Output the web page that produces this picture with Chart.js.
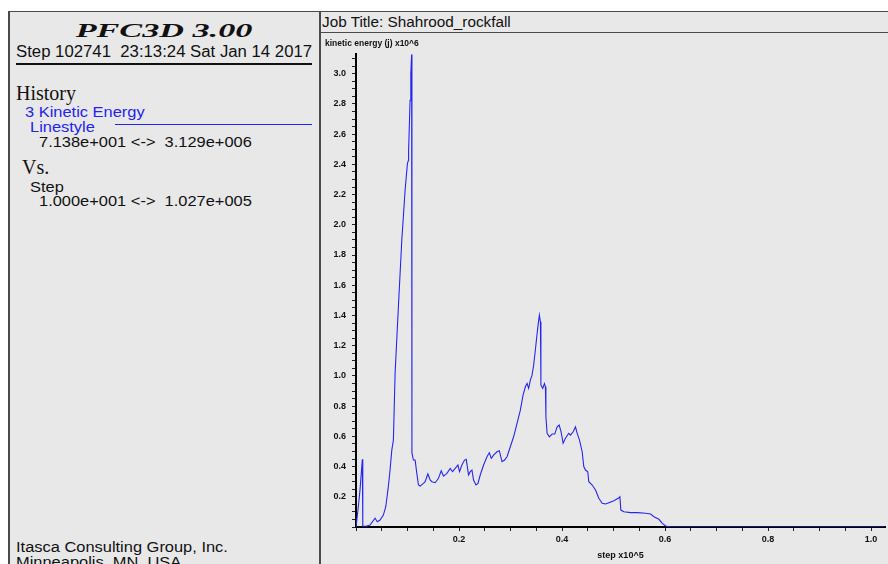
<!DOCTYPE html>
<html>
<head>
<meta charset="utf-8">
<script src="https://cdn.jsdelivr.net/npm/chart.js@4.4.0/dist/chart.umd.min.js"></script>
<style>
body { margin: 0; width: 888px; height: 564px; overflow: hidden; background: #fff; position: relative; font-family: "Liberation Sans", Arial, sans-serif; color: #111; }
.box { position: absolute; background: #e8e8e8; }
.txt { position: absolute; white-space: pre; line-height: 1; }
.wide { font-size: 15.5px; transform: scaleX(1.06); transform-origin: left center; }
.serif { font-family: "Liberation Serif", "Times New Roman", serif; }
.blue { color: #2424f0; }
</style>
</head>
<body>
<div class="box" style="left:8px; top:11px; width:311px; height:553px; border-left:2px solid #4a4a4a; border-top:1px solid #4a4a4a; box-sizing:border-box;"></div>
<div class="box" style="left:319px; top:11px; width:2px; height:553px; background:#4a4a4a;"></div>
<div class="box" style="left:321px; top:11px; width:567px; height:22px; border-top:1px solid #4a4a4a; border-bottom:1px solid #4a4a4a; box-sizing:border-box;"></div>
<div class="box" style="left:321px; top:33px; width:567px; height:531px;"></div>

<div class="txt serif" style="left:164px; top:22px; font-size:18px; font-weight:bold; font-style:italic; transform:translateX(-50%) scaleX(1.9); transform-origin:center;">PFC3D 3.00</div>
<div class="txt wide" style="left:16px; top:44px; font-size:15.8px;">Step 102741  23:13:24 Sat Jan 14 2017</div>
<div class="box" style="left:16px; top:63px; width:296px; height:2px; background:#111;"></div>
<div class="txt serif" style="left:16px; top:83px; font-size:20px;">History</div>
<div class="txt wide blue" style="left:25px; top:104px;">3 Kinetic Energy</div>
<div class="txt wide blue" style="left:30px; top:119px;">Linestyle</div>
<div class="box" style="left:115px; top:124px; width:197px; height:1px; background:#2424f0;"></div>
<div class="txt wide" style="left:39px; top:134px;">7.138e+001 &lt;-&gt;  3.129e+006</div>
<div class="txt serif" style="left:22px; top:157px; font-size:20px;">Vs.</div>
<div class="txt wide" style="left:30px; top:179px;">Step</div>
<div class="txt wide" style="left:39px; top:193px;">1.000e+001 &lt;-&gt;  1.027e+005</div>
<div class="txt wide" style="left:16px; top:539px;">Itasca Consulting Group, Inc.</div>
<div class="txt wide" style="left:16px; top:554px;">Minneapolis, MN  USA</div>

<div class="txt" style="left:322px; top:14px; font-size:15.3px;">Job Title: Shahrood_rockfall</div>

<div style="position:absolute; left:322px; top:34px; width:566px; height:530px;">
    <canvas id="history"></canvas>
</div>

<script>
// step (x10^5) and kinetic energy (j x10^6)
const steps = [
    0.0001, 0.0045, 0.0078, 0.0123, 0.0132, 0.0208, 0.0272, 0.037, 0.0414, 0.0467,
    0.0531, 0.0578, 0.0628, 0.0661, 0.0695, 0.0726, 0.0759, 0.0823, 0.0889, 0.0953,
    0.0998, 0.1018, 0.1021, 0.105, 0.1064, 0.108, 0.1086, 0.1115, 0.1148, 0.1181,
    0.1212, 0.1245, 0.1309, 0.1342, 0.1395, 0.144, 0.1473, 0.1537, 0.1601, 0.1654,
    0.1698, 0.1765, 0.1829, 0.1874, 0.1926, 0.1979, 0.201, 0.2056, 0.2107, 0.214,
    0.2185, 0.2218, 0.2251, 0.2282, 0.2329, 0.2368, 0.2412, 0.2477, 0.2543, 0.2588,
    0.2626, 0.2671, 0.2737, 0.2782, 0.2835, 0.2885, 0.2932, 0.2996, 0.306, 0.3126,
    0.3191, 0.3243, 0.3288, 0.3321, 0.3352, 0.3385, 0.3418, 0.3449, 0.3482, 0.3516,
    0.3535, 0.356, 0.358, 0.359, 0.3625, 0.3658, 0.3677, 0.3687, 0.371, 0.3755,
    0.3807, 0.3858, 0.3905, 0.3944, 0.3982, 0.4021, 0.4066, 0.413, 0.4163, 0.4216,
    0.4261, 0.4294, 0.4339, 0.4391, 0.4422, 0.4455, 0.45, 0.4519, 0.4586, 0.465,
    0.4714, 0.478, 0.4844, 0.4909, 0.5006, 0.5091, 0.5123, 0.5142, 0.52, 0.5331,
    0.5461, 0.5623, 0.572, 0.5784, 0.5881, 0.5947, 0.6012, 0.6109, 1.027
];
const kineticEnergy = [
    0.0001, 0.134, 0.245, 0.448, 0.005, 0.007, 0.013, 0.058, 0.035, 0.046,
    0.079, 0.134, 0.267, 0.377, 0.509, 0.575, 1.017, 1.457, 1.898, 2.229,
    2.405, 2.427, 2.49, 2.824, 3.0, 3.129, 0.489, 0.443, 0.443, 0.355,
    0.278, 0.271, 0.289, 0.300, 0.351, 0.311, 0.300, 0.293, 0.322, 0.372,
    0.337, 0.355, 0.388, 0.366, 0.388, 0.410, 0.366, 0.410, 0.443, 0.448,
    0.344, 0.366, 0.377, 0.311, 0.278, 0.289, 0.344, 0.410, 0.465, 0.491,
    0.454, 0.476, 0.498, 0.505, 0.432, 0.443, 0.465, 0.531, 0.597, 0.686,
    0.774, 0.873, 0.928, 0.950, 0.917, 0.972, 1.005, 1.071, 1.171, 1.281,
    1.336, 1.402, 1.358, 0.939, 0.917, 0.950, 0.928, 0.730, 0.620, 0.597,
    0.615, 0.615, 0.663, 0.675, 0.630, 0.554, 0.587, 0.620, 0.608, 0.630,
    0.663, 0.620, 0.575, 0.498, 0.40, 0.377, 0.366, 0.300, 0.278, 0.245,
    0.190, 0.157, 0.152, 0.161, 0.174, 0.190, 0.200, 0.112, 0.101, 0.095,
    0.095, 0.091, 0.086, 0.068, 0.051, 0.024, 0.007, 0.0, 0.0
];
const stepRange = [0, 1.027];
const energyRange = [0, 3.129];
const minorStep = 0.05;
const labelStep = 0.2;

// minor tick positions, every 0.05 up to the range end
function minorTicks(range) {
    let out = [];
    for (let i = 0; i * minorStep <= range[1] + 1e-9; i++) {
        out.push({ value: Math.round(i * minorStep * 100) / 100 });
    }
    return out;
}

// only every 0.2 gets a label, the rest are minor ticks
function tickLabel(value) {
    let n = value / labelStep;
    if (value === 0 || Math.abs(n - Math.round(n)) > 1e-6) return '';
    return value.toFixed(1);
}

let ctx = document.getElementById('history');
let history = new Chart(ctx, {
    type: 'line',
    data: {
        datasets: [{
            label: '3 Kinetic Energy',
            data: steps.map(function (s, i) {
                return { x: s, y: kineticEnergy[i] };
            }),
            borderColor: '#2626f2',
            borderWidth: 1.1,
            pointRadius: 0,
            tension: 0,
            fill: false
        }]
    },
    options: {
        responsive: true,
        maintainAspectRatio: false,
        animation: false,
        layout: {
            padding: { left: 3, right: 3, top: 0, bottom: 0 }
        },
        plugins: {
            legend: { display: false },
            tooltip: { enabled: false },
            title: {
                display: true,
                text: 'kinetic energy (j) x10^6',
                align: 'start',
                color: '#111',
                font: { family: 'Liberation Sans', size: 8.5, weight: 'bold' },
                padding: { top: 5, bottom: 5 }
            }
        },
        scales: {
            x: {
                type: 'linear',
                min: stepRange[0],
                max: stepRange[1],
                border: { color: '#000', width: 2 },
                grid: { drawOnChartArea: false, tickLength: 4, color: '#222' },
                afterBuildTicks: function (scale) { scale.ticks = minorTicks(stepRange); },
                ticks: {
                    autoSkip: false,
                    maxRotation: 0,
                    padding: 3,
                    color: '#111',
                    font: { family: 'Liberation Sans', size: 9, weight: 'bold' },
                    callback: tickLabel
                },
                title: {
                    display: true,
                    text: 'step x10^5',
                    color: '#111',
                    font: { family: 'Liberation Sans', size: 9, weight: 'bold' },
                    padding: { top: 0, bottom: 3 }
                },
                afterFit: function (scale) { scale.height = 37; }
            },
            y: {
                min: energyRange[0],
                max: energyRange[1],
                border: { color: '#000', width: 2 },
                grid: { drawOnChartArea: false, tickLength: 4, color: '#222' },
                afterBuildTicks: function (scale) { scale.ticks = minorTicks(energyRange); },
                ticks: {
                    autoSkip: false,
                    padding: 6,
                    color: '#111',
                    font: { family: 'Liberation Sans', size: 9, weight: 'bold' },
                    callback: tickLabel
                },
                afterFit: function (scale) { scale.width = 31; }
            }
        }
    }
});
</script>
</body>
</html>
